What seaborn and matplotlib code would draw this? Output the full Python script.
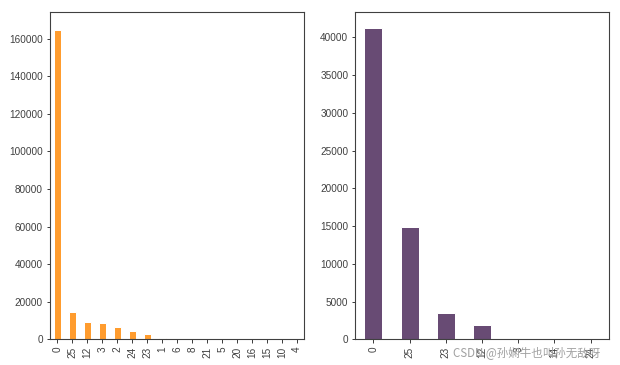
import numpy as np
import pandas as pd
import matplotlib
matplotlib.use("Agg")
import matplotlib.pyplot as plt
import seaborn as sns

# datos
cat_izq = ["0", "25", "12", "3", "2", "24", "23", "1", "6", "8", "21", "5", "20", "16", "15", "10", "4"]
val_izq = [164500, 14500, 9200, 8700, 6500, 4400, 3000, 800, 120, 60, 40, 30, 20, 15, 10, 5, 2]

cat_der = ["0", "25", "23", "12", "3", "14", "24"]
val_der = [41200, 14950, 3500, 1900, 25, 8, 3]

color_izq = "#FF9C2E"
color_der = "#684B74"

sns.set_style("ticks")
plt.rcParams["font.family"] = ["Liberation Sans", "DejaVu Sans"]
plt.rcParams["axes.edgecolor"] = "#404040"
plt.rcParams["xtick.color"] = "#404040"
plt.rcParams["ytick.color"] = "#404040"

df_izq = pd.DataFrame({"k": cat_izq, "n": val_izq})
df_der = pd.DataFrame({"k": cat_der, "n": val_der})

fig = plt.figure(figsize=(620 / 72, 365 / 72), dpi=72)
ax1 = fig.add_axes([0.0806, 0.0699, 0.4105, 0.8964])
ax2 = fig.add_axes([0.5731, 0.0699, 0.4087, 0.8964])

##grafico izquierdo
sns.barplot(data=df_izq, x="k", y="n", order=cat_izq, color=color_izq,
            saturation=1, width=0.5, ax=ax1)
##grafico derecho
sns.barplot(data=df_der, x="k", y="n", order=cat_der, color=color_der,
            saturation=1, width=0.5, ax=ax2)

for ax in (ax1, ax2):
    ax.set_xlabel("")
    ax.set_ylabel("")
    ax.tick_params(axis="x", rotation=90, labelsize=10, length=3.5, width=1)
    ax.tick_params(axis="y", labelsize=10, length=3.5, width=1)
    for s in ax.spines.values():
        s.set_visible(True)
        s.set_linewidth(1.1)

ax1.set_ylim(0, 174000)
ax2.set_ylim(0, 43300)

# marca de agua
fig.text(0.731, 0.022, "CSDN @孙娴牛也叫孙无敌呀", fontsize=11.5, color="#a0a0a0",
         family=["Noto Sans CJK SC", "DejaVu Sans"])

fig.savefig("out.png", dpi=72)
